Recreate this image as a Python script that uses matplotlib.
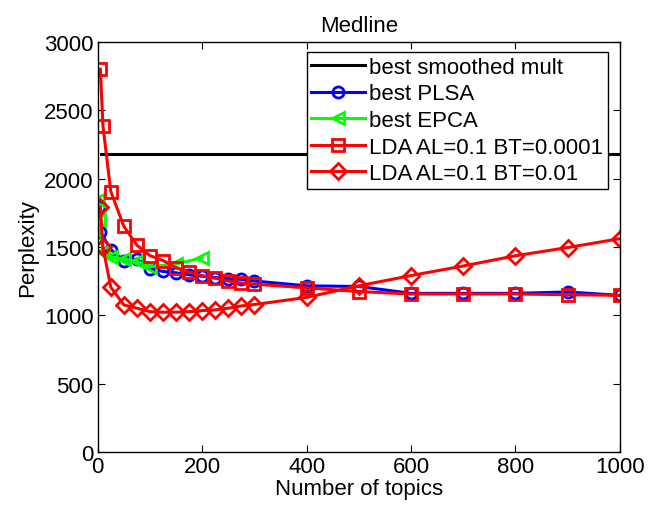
import numpy as np
import matplotlib
matplotlib.use('Agg')
import matplotlib.pyplot as plt

plt.rcParams['font.family'] = ['Liberation Sans', 'DejaVu Sans']
plt.rcParams['font.size'] = 16

# best smoothed mult (flat line)
mult_x = [7, 1000]
mult_y = [2180, 2180]

# best PLSA
plsa_x = [2, 5, 25, 50, 75, 100, 125, 150, 175, 200, 225, 250, 275, 300,
          400, 500, 600, 700, 800, 900, 1000]
plsa_y = [1790, 1610, 1480, 1400, 1410, 1340, 1320, 1310, 1295, 1285, 1275,
          1268, 1262, 1250, 1215, 1210, 1160, 1160, 1160, 1170, 1145]

# best EPCA
epca_x = [1, 2, 10, 25, 50, 75, 100, 150, 200]
epca_y = [1840, 1700, 1460, 1425, 1410, 1395, 1355, 1375, 1420]

# LDA AL=0.1 BT=0.0001
lda1_x = [5, 10, 25, 50, 75, 100, 125, 150, 175, 200, 225, 250, 275, 300,
          400, 500, 600, 700, 800, 900, 1000]
lda1_y = [2800, 2385, 1905, 1650, 1512, 1436, 1400, 1348, 1315, 1290, 1270,
          1250, 1235, 1227, 1200, 1173, 1155, 1155, 1155, 1150, 1145]

# LDA AL=0.1 BT=0.01
lda2_x = [5, 10, 25, 50, 75, 100, 125, 150, 175, 200, 225, 250, 275, 300,
          400, 500, 600, 700, 800, 900, 1000]
lda2_y = [1790, 1497, 1205, 1075, 1051, 1026, 1022, 1022, 1026, 1034, 1039,
          1051, 1068, 1078, 1130, 1215, 1290, 1360, 1435, 1495, 1560]

fig = plt.figure(figsize=(6.56, 5.10), dpi=100)
ax = fig.add_axes([0.149, 0.112, 0.796, 0.804])

lw = 2.2
ms = 8
mew = 2.0
ax.plot(mult_x, mult_y, color='k', lw=lw, label='best smoothed mult')
ax.plot(plsa_x, plsa_y, color='b', lw=lw, marker='o', ms=ms, mew=mew,
        mfc='none', label='best PLSA')
ax.plot(epca_x, epca_y, color='#00ff00', lw=lw, marker='<', ms=ms + 1, mew=mew,
        mfc='none', label='best EPCA')
ax.plot(lda1_x, lda1_y, color='r', lw=lw, marker='s', ms=ms, mew=mew,
        mfc='none', label='LDA AL=0.1 BT=0.0001')
ax.plot(lda2_x, lda2_y, color='r', lw=lw, marker='D', ms=ms, mew=mew,
        mfc='none', label='LDA AL=0.1 BT=0.01')

ax.set_xlim(0, 1000)
ax.set_ylim(0, 3000)
ax.set_xticks(np.arange(0, 1001, 200))
ax.set_yticks(np.arange(0, 3001, 500))
ax.tick_params(direction='in', top=True, right=True, length=5, width=0.8, pad=3)
for s in ax.spines.values():
    s.set_linewidth(1.0)

ax.set_title('Medline', fontsize=16, pad=8)
ax.set_xlabel('Number of topics', labelpad=1)
ax.set_ylabel('Perplexity', labelpad=4)

leg = ax.legend(loc='upper right', bbox_to_anchor=(0.985, 0.985), fancybox=False,
                edgecolor='k', framealpha=1, borderpad=0.2, labelspacing=0.25,
                handlelength=2.4, handletextpad=0.2, borderaxespad=0.2)
leg.get_frame().set_linewidth(1.0)

fig.savefig('out.png', dpi=100)
